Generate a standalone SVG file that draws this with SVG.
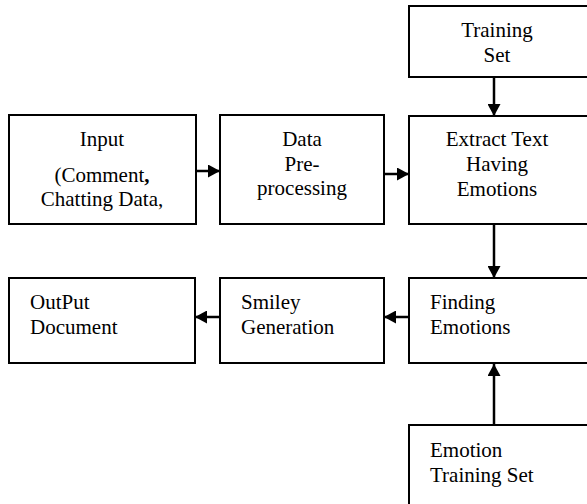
<svg xmlns="http://www.w3.org/2000/svg" width="587" height="504" viewBox="0 0 587 504">
<defs>
<style>
.box{fill:#fff;stroke:#000;stroke-width:2}
.t{font-family:"Liberation Serif","DejaVu Serif",serif;font-size:21px;fill:#000}
.c{text-anchor:middle}
.ln{stroke:#000;stroke-width:2.5;fill:none}
</style>
<marker id="ah" viewBox="0 0 10 10" refX="10" refY="5" markerWidth="12" markerHeight="13" markerUnits="userSpaceOnUse" orient="auto" preserveAspectRatio="none">
<path d="M0,0 L10,5 L0,10 Z" fill="#000"/>
</marker>
</defs>
<rect width="587" height="504" fill="#fff"/>
<g id="training-set">
<rect class="box" x="409" y="6" width="190" height="71"/>
<text class="t c" x="497" y="37">Training</text>
<text class="t c" x="497" y="62">Set</text>
</g>
<g id="input">
<rect class="box" x="9" y="115" width="187" height="109"/>
<text class="t c" x="102" y="146">Input</text>
<text class="t c" x="102" y="182">(Comment<tspan font-weight="bold">,</tspan></text>
<text class="t c" x="102" y="206">Chatting Data,</text>
</g>
<g id="data-preprocessing">
<rect class="box" x="220" y="115" width="164" height="109"/>
<text class="t c" x="302" y="146">Data</text>
<text class="t c" x="302" y="171">Pre-</text>
<text class="t c" x="302" y="195">processing</text>
</g>
<g id="extract-text">
<rect class="box" x="409" y="116" width="190" height="108"/>
<text class="t c" x="497" y="146">Extract Text</text>
<text class="t c" x="497" y="171">Having</text>
<text class="t c" x="497" y="196">Emotions</text>
</g>
<g id="output-document">
<rect class="box" x="9" y="278" width="186" height="85"/>
<text class="t" x="30" y="309">OutPut</text>
<text class="t" x="30" y="334">Document</text>
</g>
<g id="smiley-generation">
<rect class="box" x="220" y="278" width="164" height="85"/>
<text class="t" x="241" y="309">Smiley</text>
<text class="t" x="241" y="334">Generation</text>
</g>
<g id="finding-emotions">
<rect class="box" x="409" y="278" width="190" height="85"/>
<text class="t" x="430" y="309">Finding</text>
<text class="t" x="430" y="334">Emotions</text>
</g>
<g id="emotion-training-set">
<rect class="box" x="409" y="425" width="190" height="90"/>
<text class="t" x="430" y="457">Emotion</text>
<text class="t" x="430" y="482">Training Set</text>
</g>
<g id="connectors">
<line class="ln" x1="196" y1="171" x2="220" y2="171" marker-end="url(#ah)"/>
<line class="ln" x1="384" y1="174" x2="409" y2="174" marker-end="url(#ah)"/>
<line class="ln" x1="494" y1="77" x2="494" y2="116" marker-end="url(#ah)"/>
<line class="ln" x1="494" y1="224" x2="494" y2="278" marker-end="url(#ah)"/>
<line class="ln" x1="409" y1="317" x2="384" y2="317" marker-end="url(#ah)"/>
<line class="ln" x1="220" y1="317" x2="195" y2="317" marker-end="url(#ah)"/>
<line class="ln" x1="494" y1="425" x2="494" y2="364" marker-end="url(#ah)"/>
</g>
</svg>
